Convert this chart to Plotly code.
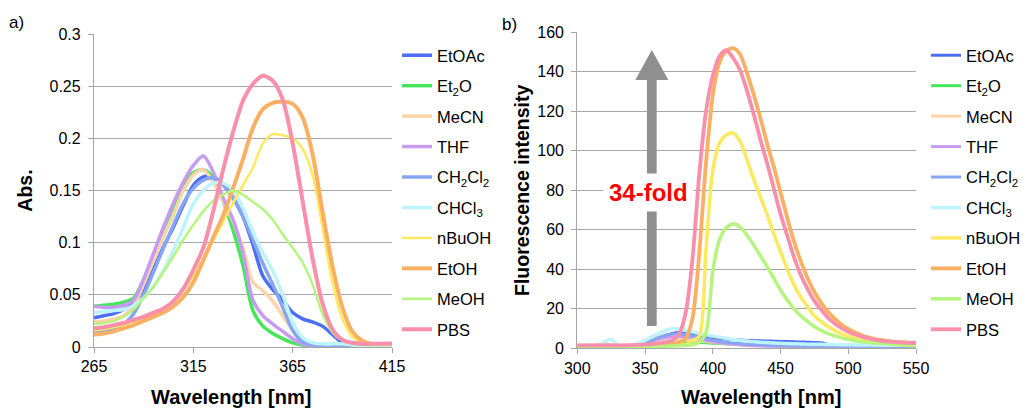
import plotly.graph_objects as go

# ---------------- data ----------------
solvents = ["EtOAc", "Et<sub>2</sub>O", "MeCN", "THF", "CH<sub>2</sub>Cl<sub>2</sub>",
            "CHCl<sub>3</sub>", "nBuOH", "EtOH", "MeOH", "PBS"]

wl_abs = list(range(265, 420, 5))     # 265 ... 415 nm
wl_fl = list(range(300, 555, 5))      # 300 ... 550 nm

abs_EtOAc = [0.028, 0.030, 0.032, 0.036, 0.042, 0.056, 0.075, 0.096, 0.115, 0.136,
             0.155, 0.163, 0.163, 0.156, 0.143, 0.125, 0.098, 0.068, 0.055, 0.045,
             0.033, 0.027, 0.024, 0.020, 0.012, 0.004, 0.001, 0.0, 0.0, 0.0, 0.0]
abs_Et2O = [0.039, 0.040, 0.041, 0.043, 0.047, 0.065, 0.088, 0.112, 0.135, 0.155,
            0.167, 0.170, 0.163, 0.140, 0.112, 0.078, 0.035, 0.020, 0.013, 0.008,
            0.004, 0.002, 0.001, 0.0, 0.0, 0.0, 0.0, 0.0, 0.0, 0.0, 0.0]
abs_MeCN = [0.024, 0.025, 0.027, 0.030, 0.040, 0.060, 0.083, 0.106, 0.127, 0.150,
            0.165, 0.170, 0.158, 0.140, 0.120, 0.095, 0.062, 0.054, 0.044, 0.030,
            0.016, 0.005, 0.002, 0.001, 0.0, 0.0, 0.0, 0.0, 0.0, 0.0, 0.0]
abs_THF = [0.039, 0.038, 0.038, 0.040, 0.045, 0.065, 0.090, 0.115, 0.138, 0.158,
           0.174, 0.183, 0.168, 0.143, 0.122, 0.090, 0.045, 0.030, 0.022, 0.015,
           0.008, 0.003, 0.001, 0.0, 0.0, 0.0, 0.0, 0.0, 0.0, 0.0, 0.0]
abs_CH2Cl2 = [0.015, 0.016, 0.018, 0.022, 0.032, 0.050, 0.072, 0.095, 0.117, 0.138,
              0.152, 0.160, 0.162, 0.155, 0.143, 0.125, 0.103, 0.080, 0.060, 0.038,
              0.016, 0.005, 0.002, 0.001, 0.0, 0.0, 0.0, 0.0, 0.0, 0.0, 0.0]
abs_CHCl3 = [0.033, 0.034, 0.035, 0.036, 0.040, 0.047, 0.058, 0.074, 0.093, 0.115,
             0.137, 0.150, 0.157, 0.157, 0.150, 0.133, 0.110, 0.090, 0.073, 0.050,
             0.024, 0.009, 0.004, 0.003, 0.003, 0.003, 0.002, 0.001, 0.0, 0.0, 0.0]
abs_nBuOH = [0.016, 0.017, 0.019, 0.021, 0.024, 0.027, 0.031, 0.036, 0.044, 0.055,
             0.068, 0.085, 0.102, 0.120, 0.138, 0.155, 0.172, 0.195, 0.204, 0.203,
             0.200, 0.190, 0.165, 0.115, 0.062, 0.027, 0.010, 0.004, 0.003, 0.002, 0.002]
abs_EtOH = [0.012, 0.013, 0.015, 0.018, 0.021, 0.025, 0.029, 0.033, 0.039, 0.048,
            0.062, 0.083, 0.105, 0.126, 0.152, 0.180, 0.210, 0.228, 0.234, 0.235,
            0.233, 0.220, 0.185, 0.130, 0.078, 0.038, 0.015, 0.006, 0.003, 0.003, 0.003]
abs_MeOH = [0.022, 0.023, 0.025, 0.029, 0.036, 0.047, 0.058, 0.072, 0.087, 0.103,
            0.117, 0.130, 0.140, 0.146, 0.150, 0.146, 0.139, 0.132, 0.122, 0.108,
            0.095, 0.081, 0.060, 0.032, 0.014, 0.006, 0.003, 0.002, 0.002, 0.002, 0.002]
abs_PBS = [0.018, 0.019, 0.021, 0.023, 0.026, 0.029, 0.033, 0.037, 0.044, 0.056,
           0.074, 0.095, 0.130, 0.170, 0.206, 0.236, 0.252, 0.260, 0.255, 0.237,
           0.195, 0.140, 0.085, 0.042, 0.017, 0.007, 0.004, 0.003, 0.003, 0.003, 0.003]

fl_EtOAc = [1.0, 1.0, 1.0, 1.0, 1.0, 1.0, 1.0, 1.0, 1.0,
            1.3, 2.0, 3.5, 5.0, 6.5, 7.5, 8.0, 7.8, 7.2, 6.5,
            5.8, 5.3, 4.9, 4.6, 4.4, 4.2, 4.0, 3.9, 3.8, 3.7,
            3.6, 3.5, 3.4, 3.3, 3.2, 3.1, 3.0, 2.8, 2.0, 1.5,
            1.3, 1.2, 1.2, 1.1, 1.1, 1.1, 1.0, 1.0, 1.0, 1.0, 1.0, 1.0]
fl_Et2O = [1.0, 1.0, 1.0, 1.0, 1.0, 1.0, 1.0, 1.0, 1.0, 1.0, 1.0,
           1.5, 2.2, 2.8, 3.1, 3.2, 3.2, 3.1, 3.0, 2.8, 2.6,
           2.4, 2.2, 2.0, 1.9, 1.8, 1.7, 1.6, 1.5, 1.3, 1.1,
           1.0, 1.0, 0.9, 0.9, 0.9, 0.9, 0.8, 0.8, 0.8, 0.8,
           0.8, 0.8, 0.8, 0.8, 0.8, 0.8, 0.8, 0.8, 0.8, 0.8]
fl_MeCN = [1.0, 1.0, 1.2, 1.8, 2.6, 1.5, 1.0, 1.0, 1.0, 1.1,
           1.5, 2.2, 3.0, 3.6, 4.0, 4.2, 4.2, 4.0, 3.7, 3.4,
           3.0, 2.7, 2.4, 2.1, 1.9, 1.7, 1.5, 1.4, 1.3, 1.2,
           1.1, 1.1, 1.1, 1.0, 1.0, 1.0, 1.0, 1.0, 1.0, 1.0,
           1.0, 1.0, 1.0, 1.0, 1.0, 1.0, 1.0, 1.0, 1.0, 1.0, 1.0]
fl_THF = [1.0, 1.0, 1.0, 1.0, 1.0, 1.0, 1.0, 1.0, 1.0,
          1.5, 2.5, 3.5, 4.5, 5.3, 5.8, 6.0, 5.8, 5.3, 4.6,
          3.9, 3.3, 2.8, 2.4, 2.0, 1.7, 1.5, 1.3, 1.2, 1.1,
          1.0, 1.0, 1.0, 1.0, 1.0, 1.0, 1.0, 1.0, 1.0, 1.0, 1.0,
          1.0, 1.0, 1.0, 1.0, 1.0, 1.0, 1.0, 1.0, 1.0, 1.0, 1.0]
fl_CH2Cl2 = [1.0, 1.0, 1.0, 1.0, 1.0, 1.0, 1.0, 1.0, 1.0,
             1.5, 2.5, 4.0, 5.5, 6.5, 7.2, 7.3, 7.0, 6.3, 5.5,
             4.8, 4.2, 3.6, 3.1, 2.7, 2.4, 2.1, 1.9, 1.7, 1.5,
             1.4, 1.3, 1.3, 1.2, 1.2, 1.2, 1.1, 1.1, 1.1, 1.1,
             1.0, 1.0, 1.0, 1.0, 1.0, 1.0, 1.0, 1.0, 1.0, 1.0, 1.0, 1.0]
fl_CHCl3 = [1.0, 1.0, 1.0, 1.3, 3.2, 4.6, 1.6, 1.3, 1.5, 2.5,
            4.0, 5.8, 7.5, 9.0, 10.0, 9.8, 9.0, 8.3, 7.5, 6.8,
            6.2, 5.6, 5.0, 4.5, 4.1, 3.7, 3.4, 3.1, 2.9, 2.7,
            2.5, 2.4, 2.3, 2.2, 2.1, 2.0, 2.0, 1.9, 1.9, 1.8,
            1.8, 1.7, 1.7, 1.7, 1.6, 1.6, 1.6, 1.5, 1.5, 1.5, 1.5]
fl_nBuOH = [1.0, 1.0, 1.0, 1.0, 1.0, 1.0, 1.0, 1.0, 1.0, 1.0,
            1.1, 1.1, 1.2, 1.3, 1.5, 1.7,
            2.0, 4.0, 6.0, 50.0,
            90.0, 104.0, 108.0, 109.0, 105.0, 96.0, 86.0, 77.0, 68.0, 58.0,
            49.0, 40.0, 32.0, 26.0, 21.0, 16.5, 13.5, 11.0, 9.0, 7.3,
            6.0, 5.0, 4.3, 3.8, 3.3, 3.0, 2.7, 2.5, 2.3, 2.2, 2.1]
fl_EtOH = [1.3, 1.3, 1.3, 1.3, 1.5, 1.5, 1.3, 1.3, 1.3, 1.3,
           1.4, 1.5, 1.6, 1.8, 2.0,
           3.0, 5.0, 15.0, 48.0, 94.0,
           128.0, 145.0, 150.5, 152.0, 149.0, 140.0, 129.0, 117.0, 104.0, 92.0,
           79.0, 66.0, 54.0, 44.0, 35.5, 28.5, 23.0, 18.5, 15.0, 12.0,
           9.8, 8.0, 6.6, 5.5, 4.7, 4.1, 3.6, 3.3, 3.1, 2.9, 2.8]
fl_MeOH = [1.0, 1.0, 1.0, 1.0, 1.0, 1.0, 1.0, 1.0, 1.0, 1.0,
           1.0, 1.0, 1.0, 1.1, 1.2, 1.3, 1.5, 1.8,
           3.0, 8.0, 39.0, 55.0, 61.0, 63.0, 61.5, 57.5, 52.5, 47.0,
           41.5, 35.5, 29.5, 24.5, 20.0, 16.5, 13.5, 11.0, 9.0, 7.5,
           6.3, 5.3, 4.5, 3.8, 3.3, 3.0, 2.7, 2.4, 2.1, 1.8,
           1.6, 1.4, 1.3]
fl_PBS = [1.5, 1.5, 1.5, 1.5, 1.5, 1.5, 1.5, 1.5, 1.6, 1.7,
          1.9, 2.1, 2.5,
          3.0, 4.0, 7.0, 18.0, 45.0, 88.0, 120.0,
          138.0, 148.0, 151.0, 147.0, 141.0, 131.0, 119.0, 106.0, 94.0, 81.0,
          68.0, 57.0, 46.0, 37.0, 30.0, 24.0, 19.5, 15.5, 12.5, 10.2,
          8.4, 7.0, 5.9, 5.0, 4.3, 3.8, 3.4, 3.1, 2.9, 2.7, 2.6]

abs_series = [abs_EtOAc, abs_Et2O, abs_MeCN, abs_THF, abs_CH2Cl2,
              abs_CHCl3, abs_nBuOH, abs_EtOH, abs_MeOH, abs_PBS]
fl_series = [fl_EtOAc, fl_Et2O, fl_MeCN, fl_THF, fl_CH2Cl2,
             fl_CHCl3, fl_nBuOH, fl_EtOH, fl_MeOH, fl_PBS]

abs_ticks_x = [265, 315, 365, 415]
abs_ticks_y = [0, 0.05, 0.1, 0.15, 0.2, 0.25, 0.3]
abs_ticks_y_text = ["0", "0.05", "0.1", "0.15", "0.2", "0.25", "0.3"]
fl_ticks_x = [300, 350, 400, 450, 500, 550]
fl_ticks_y = [0, 20, 40, 60, 80, 100, 120, 140, 160]
fold_label = "34-fold"
x_title = "Wavelength [nm]"
abs_title = "Abs."
fl_title = "Fluorescence intensity"

# ---------------- style ----------------
colors = ["#4c6ef5", "#45e65a", "#fdd3a8", "#c79bf2", "#86a6f2",
          "#bdf3fb", "#fbe960", "#fbaf63", "#b5f57e", "#f98fab"]
abs_widths = [3.5, 3.5, 3.5, 3.5, 3.5, 3.5, 2.5, 4, 2.5, 4]
fl_widths = [3, 3, 3, 3, 3, 3.5, 3.5, 3.8, 3.5, 3.8]
FONT = "Liberation Sans, Arial, sans-serif"
GRID = "#a6a6a6"
W, H = 1023, 401          # page body has an 8px margin: screen = figure + 8
OFF = 8


def px_x(sx):
    return (sx - OFF) / W


def px_y(sy):
    return (H - (sy - OFF)) / H


fig = go.Figure()
for i, name in enumerate(solvents):
    fig.add_trace(go.Scatter(
        x=wl_abs, y=abs_series[i], name=name, mode="lines",
        line=dict(color=colors[i], width=abs_widths[i], shape="spline", smoothing=0.8),
        xaxis="x", yaxis="y", legend="legend", legendgroup="a%d" % i))
for i, name in enumerate(solvents):
    fig.add_trace(go.Scatter(
        x=wl_fl, y=fl_series[i], name=name, mode="lines",
        line=dict(color=colors[i], width=fl_widths[i], shape="spline", smoothing=0.8),
        xaxis="x2", yaxis="y2", legend="legend2", legendgroup="b%d" % i))

axis_common = dict(showline=True, linecolor=GRID, linewidth=1.3, ticks="outside",
                   ticklen=5, tickcolor=GRID, tickwidth=1.3, zeroline=False,
                   automargin=False, tickfont=dict(size=16, color="#000", family=FONT))
title_font = dict(size=19.5, color="#000", family=FONT, weight="bold")

legend_common = dict(font=dict(size=16.5, color="#000", family=FONT), bgcolor="rgba(0,0,0,0)",
                     tracegroupgap=6, yanchor="top", xanchor="left", itemclick=False)

# arrow geometry (data units of panel b)
ARROW_X = 355.0
ARROW_HALF_SHAFT = 3.6
ARROW_HALF_HEAD = 12.2
ARROW_BOTTOM, ARROW_HEAD_BASE, ARROW_TIP = 11.3, 135.8, 151.0
ARROW_COLOR = "#8f8f8f"

fig.update_layout(
    width=W, height=H, margin=dict(l=0, r=0, t=0, b=0),
    paper_bgcolor="white", plot_bgcolor="white",
    font=dict(family=FONT, color="#000"),
    xaxis=dict(domain=[px_x(94), px_x(392)], range=[265, 415], tickvals=abs_ticks_x,
               showgrid=False, anchor="y", **axis_common),
    yaxis=dict(domain=[px_y(347), px_y(34)], range=[0, 0.3], tickvals=abs_ticks_y,
               ticktext=abs_ticks_y_text, showgrid=True, gridcolor=GRID, gridwidth=1.3,
               anchor="x", ticklabelstandoff=4,
               title=dict(text=abs_title, font=title_font, standoff=11),
               **axis_common),
    xaxis2=dict(domain=[px_x(577.3), px_x(916)], range=[300, 550], tickvals=fl_ticks_x,
                showgrid=False, anchor="y2", **axis_common),
    yaxis2=dict(domain=[px_y(348.3), px_y(32.3)], range=[0, 160], tickvals=fl_ticks_y,
                showgrid=True, gridcolor=GRID, gridwidth=1.3, anchor="x2", ticklabelstandoff=4,
                title=dict(text=fl_title, font=title_font, standoff=2),
                **axis_common),
    legend=dict(x=px_x(397), y=px_y(38), **legend_common),
    legend2=dict(x=px_x(926), y=px_y(38), **legend_common),
    showlegend=True,
)

# x-axis titles (placed like the original, slightly off-centre)
for cx in (230.7, 761.0):
    fig.add_annotation(x=px_x(cx), y=px_y(396.5), xref="paper", yref="paper", text=x_title,
                       showarrow=False, xanchor="center", yanchor="middle",
                       font=dict(size=20, color="#000", family=FONT, weight="bold"))

fig.add_shape(type="rect", xref="x2", yref="y2",
              x0=ARROW_X - ARROW_HALF_SHAFT, x1=ARROW_X + ARROW_HALF_SHAFT,
              y0=ARROW_BOTTOM, y1=ARROW_HEAD_BASE,
              fillcolor=ARROW_COLOR, line=dict(width=0), layer="between")
fig.add_shape(type="path", xref="x2", yref="y2",
              path="M %f,%f L %f,%f L %f,%f Z" % (ARROW_X - ARROW_HALF_HEAD, ARROW_HEAD_BASE,
                                                  ARROW_X + ARROW_HALF_HEAD, ARROW_HEAD_BASE,
                                                  ARROW_X, ARROW_TIP),
              fillcolor=ARROW_COLOR, line=dict(width=0), layer="between")

fig.add_annotation(x=352.4, y=79, xref="x2", yref="y2", text=fold_label,
                   showarrow=False, bgcolor="white", borderpad=5,
                   font=dict(size=24, color="#ff0000", family=FONT, weight="bold"))
fig.add_annotation(x=px_x(7), y=px_y(11), xref="paper", yref="paper", text="a)",
                   showarrow=False, xanchor="left", yanchor="top",
                   font=dict(size=17, color="#000", family=FONT))
fig.add_annotation(x=px_x(500), y=px_y(13), xref="paper", yref="paper", text="b)",
                   showarrow=False, xanchor="left", yanchor="top",
                   font=dict(size=17, color="#000", family=FONT))

fig.write_html("out.html")
